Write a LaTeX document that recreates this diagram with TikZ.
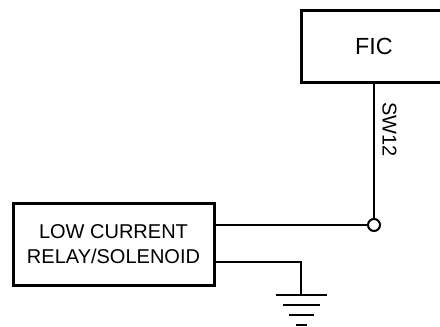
\documentclass[tikz,border=0pt]{standalone}
\usepackage{fontspec}
\setmainfont{Liberation Sans}
\usetikzlibrary{positioning}
\tikzset{
  blockbox/.style = {draw=black, rectangle, line width=2.25pt, align=center, inner sep=0pt},
  ficbox/.style = {blockbox, minimum width=109.5pt, minimum height=54pt, font=\fontsize{17.5}{21}\selectfont},
  relaybox/.style = {blockbox, minimum width=150.75pt, minimum height=61.5pt, font=\fontsize{15}{18.7}\selectfont},
  junction/.style = {circle, draw=black, fill=white, line width=1.5pt, minimum size=9pt, inner sep=0pt},
  wire/.style = {draw=black, line width=1.5pt},
  wirelabel/.style = {rotate=-90, anchor=south, inner sep=5.5pt, font=\fontsize{15}{18}\selectfont}
}

\begin{document}
\begin{tikzpicture}[x=0.75pt, y=-0.75pt]
  \clip (0,0) rectangle (440,326);
  % Blocks
  \node [ficbox] (fic) at (374,46) {FIC};
  \node [relaybox] (relay) at (113.5,244) {LOW CURRENT\\RELAY/SOLENOID};
  % Junction and ground tap
  \node [junction] (jct) at (374,225) {};
  \coordinate (lowtap) at (214,262);
  \coordinate (gnd) at (301,295);
  % Wires
  \draw [wire] (fic.south) -- node [wirelabel, pos=0.34] (sw) {SW12} (jct.north);
  \draw [wire] (relay.east |- jct) -- (jct.west);
  \draw [wire] (lowtap) -| (gnd);
  % Ground symbol
  \foreach \w/\d in {25.5/0, 18.5/10, 12.5/20, 5.5/30}
    \draw [wire] ([xshift=-\w*0.75pt, yshift=-\d*0.75pt]gnd) -- ([xshift=\w*0.75pt, yshift=-\d*0.75pt]gnd);
\end{tikzpicture}
\end{document}
